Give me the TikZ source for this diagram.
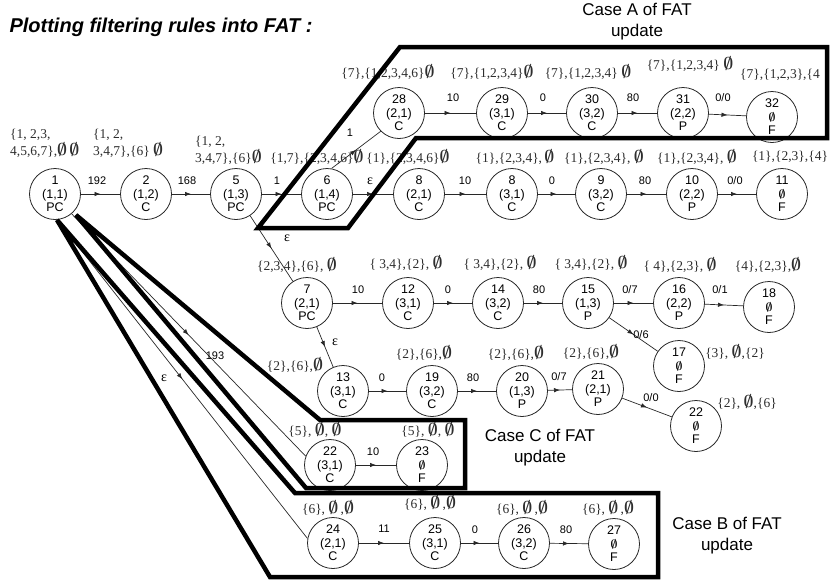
\documentclass[tikz,border=0pt]{standalone}
\usepackage{fontspec}
\setmainfont{Liberation Serif}
\newfontfamily\arialf{Liberation Sans}
\usetikzlibrary{arrows.meta,decorations.markings}
\definecolor{setc}{RGB}{45,45,45}
\definecolor{linec}{RGB}{40,40,40}
\newcommand{\es}{{\fontsize{17}{17}\selectfont\boldmath$\emptyset$}}
\newcommand{\esn}{{\fontsize{13}{12}\selectfont\boldmath$\emptyset$}}
\begin{document}
\begin{tikzpicture}[x=1pt,y=-1pt,
 nd/.style={circle,draw=linec,line width=0.8pt,minimum size=51pt,inner sep=0pt,align=center,font=\arialf\fontsize{12.5}{13.5}\selectfont},
 el/.style={font=\arialf\fontsize{11}{12}\selectfont,inner sep=0.5pt},
 epsl/.style={fill=white,font=\fontsize{14}{14}\selectfont,inner sep=1pt},
 sl/.style={font=\fontsize{13.5}{17}\selectfont,text=setc,inner sep=0pt},
 fwd/.style={draw=linec,line width=0.7pt,decoration={markings,mark=at position 0.5 with {\arrow{Latex[length=6pt,width=4.5pt]}}},postaction={decorate}},
 casebox/.style={line width=4.5pt,draw=black},
 capt/.style={font=\arialf\fontsize{17}{21}\selectfont,align=center},
]
\useasboundingbox (0,0) rectangle (835,579);

% title
\node[anchor=west,font=\arialf\bfseries\itshape\fontsize{20}{24}\selectfont] (title) at (6,27) {Plotting filtering rules into FAT :};

% nodes row 1
\node[nd] (n1) at (55,194) {1\\(1,1)\\PC};
\node[nd] (n2) at (146,194) {2\\(1,2)\\C};
\node[nd] (n5) at (236,194) {5\\(1,3)\\PC};
\node[nd] (n6) at (327,194) {6\\(1,4)\\PC};
\node[nd] (n8) at (419,194) {8\\(2,1)\\C};
\node[nd] (n8b) at (512,194) {8\\(3,1)\\C};
\node[nd] (n9) at (601,194) {9\\(3,2)\\C};
\node[nd] (n10) at (692,194) {10\\(2,2)\\P};
\node[nd] (n11) at (782,194) {11\\\esn\\F};
% case A row
\node[nd] (n28) at (399,113) {28\\(2,1)\\C};
\node[nd] (n29) at (502,113) {29\\(3,1)\\C};
\node[nd] (n30) at (592,113) {30\\(3,2)\\C};
\node[nd] (n31) at (683,113) {31\\(2,2)\\P};
\node[nd] (n32) at (772,117) {32\\\esn\\F};
% row 3
\node[nd] (n7) at (307,303) {7\\(2,1)\\PC};
\node[nd] (n12) at (408,303) {12\\(3,1)\\C};
\node[nd] (n14) at (498,303) {14\\(3,2)\\C};
\node[nd] (n15) at (588,303) {15\\(1,3)\\P};
\node[nd] (n16) at (679,303) {16\\(2,2)\\P};
\node[nd] (n18) at (769,307) {18\\\esn\\F};
\node[nd] (n17) at (679,366) {17\\\esn\\F};
% row 4
\node[nd] (n13) at (343,391) {13\\(3,1)\\C};
\node[nd] (n19) at (432,391) {19\\(3,2)\\C};
\node[nd] (n20) at (522,391) {20\\(1,3)\\P};
\node[nd] (n21) at (598,389) {21\\(2,1)\\P};
\node[nd] (n22f) at (696,426) {22\\\esn\\F};
% case C
\node[nd] (n22) at (330,465) {22\\(3,1)\\C};
\node[nd] (n23) at (422,465) {23\\\esn\\F};
% case B
\node[nd] (n24) at (333,543) {24\\(2,1)\\C};
\node[nd] (n25) at (435,543) {25\\(3,1)\\C};
\node[nd] (n26) at (524,543) {26\\(3,2)\\C};
\node[nd] (n27) at (614,544) {27\\\esn\\F};

% edges
\draw[fwd] (n1) -- (n2);
\draw[fwd] (n2) -- (n5);
\draw[fwd] (n5) -- (n6);
\draw[fwd] (n6) -- (n8);
\draw[fwd] (n8) -- (n8b);
\draw[fwd] (n8b) -- (n9);
\draw[fwd] (n9) -- (n10);
\draw[fwd] (n10) -- (n11);
\draw[fwd] (n6.80) -- (n28.225);
\draw[fwd] (n28) -- (n29);
\draw[fwd] (n29) -- (n30);
\draw[fwd] (n30) -- (n31);
\draw[fwd] (n31) -- (n32);
\draw[fwd] (n5) -- (n7);
\draw[fwd] (n7) -- (n12);
\draw[fwd] (n12) -- (n14);
\draw[fwd] (n14) -- (n15);
\draw[fwd] (n15) -- (n16);
\draw[fwd] (n16) -- (n18);
\draw[fwd] (n15) -- (n17);
\draw[fwd] (n7) -- (n13);
\draw[fwd] (n13) -- (n19);
\draw[fwd] (n19) -- (n20);
\draw[fwd] (n20) -- (n21);
\draw[fwd] (n21) -- (n22f);
\draw[fwd] (n1.-50) -- (n22.160);
\draw[fwd] (n22) -- (n23);
\draw[fwd] (n1.-85) -- (n24.170);
\draw[fwd] (n24) -- (n25);
\draw[fwd] (n25) -- (n26);
\draw[fwd] (n26) -- (n27);

% edge labels
\node[el] (e1) at (97,181) {192};
\node[el] (e2) at (187,181) {168};
\node[el] (e3) at (277,181) {1};
\node[epsl] (e4) at (370,181) {ε};
\node[el] (e5) at (465,181) {10};
\node[el] (e6) at (552,181) {0};
\node[el] (e7) at (645,181) {80};
\node[el] (e8) at (735,181) {0/0};
\node[el] (e9) at (350,133) {1};
\node[el] (e10) at (453,98) {10};
\node[el] (e11) at (543,98) {0};
\node[el] (e12) at (633,98) {80};
\node[el] (e13) at (723,98) {0/0};
\node[epsl] (e14) at (287,238) {ε};
\node[el] (e15) at (358,290) {10};
\node[el] (e16) at (448,290) {0};
\node[el] (e17) at (539,290) {80};
\node[el] (e18) at (630,290) {0/7};
\node[el] (e19) at (720,290) {0/1};
\node[el] (e20) at (641,335) {0/6};
\node[epsl] (e21) at (335,342) {ε};
\node[el] (e22) at (382,378) {0};
\node[el] (e23) at (473,378) {80};
\node[el] (e24) at (559,377) {0/7};
\node[el] (e25) at (651,398) {0/0};
\node[el] (e26) at (215,356) {193};
\node[el] (e27) at (373,452) {10};
\node[epsl] (e28) at (164,378) {ε};
\node[el] (e29) at (384,529) {11};
\node[el] (e30) at (475,530) {0};
\node[el] (e31) at (566,530) {80};

% set labels
\node[sl,anchor=west,align=left] (s1) at (10,143) {\{1, 2,3,\\4,5,6,7\},\es\,\es};
\node[sl,anchor=west,align=left] (s2) at (93,143) {\{1, 2,\\3,4,7\},\{6\} \es};
\node[sl,anchor=west,align=left] (s5) at (195,150) {\{1, 2,\\3,4,7\},\{6\}\es};
\node[sl] (s6) at (317,157) {\{1,7\},\{2,3,4,6\}\es};
\node[sl] (s8) at (408,157) {\{1\},\{2,3,4,6\}\es};
\node[sl] (s8b) at (515,157) {\{1\},\{2,3,4\},\,\es};
\node[sl] (s9) at (604,157) {\{1\},\{2,3,4\}, \es};
\node[sl] (s10) at (697,157) {\{1\},\{2,3,4\}, \es};
\node[sl] (s11) at (790,157) {\{1\},\{2,3\},\{4\}};
\node[sl] (s28) at (388,72) {\{7\},\{1,2,3,4,6\}\es};
\node[sl] (s29) at (492,72) {\{7\},\{1,2,3,4\}\es};
\node[sl] (s30) at (588,72) {\{7\},\{1,2,3,4\} \es};
\node[sl] (s31) at (690,64) {\{7\},\{1,2,3,4\} \es};
\node[sl] (s32) at (780,75) {\{7\},\{1,2,3\},\{4};
\node[sl] (s7) at (297,265) {\{2,3,4\},\{6\}, \es};
\node[sl] (s12) at (406,263) {\{ 3,4\},\{2\}, \es};
\node[sl] (s14) at (500,263) {\{ 3,4\},\{2\}, \es};
\node[sl] (s15) at (591,263) {\{ 3,4\},\{2\}, \es};
\node[sl] (s16) at (680,265) {\{ 4\},\{2,3\}, \es};
\node[sl] (s18) at (768,265) {\{4\},\{2,3\},\es};
\node[sl] (s17) at (735,352) {\{3\}, \es,\{2\}};
\node[sl] (s13) at (295,365) {\{2\},\{6\},\es};
\node[sl] (s19) at (424,353) {\{2\},\{6\},\es};
\node[sl] (s20) at (516,353) {\{2\},\{6\},\es};
\node[sl] (s21) at (591,352) {\{2\},\{6\},\es};
\node[sl] (s22f) at (747,402) {\{2\}, \es,\{6\}};
\node[sl] (s22) at (315,430) {\{5\}, \es, \es};
\node[sl] (s23) at (428,430) {\{5\}, \es, \es};
\node[sl] (s24) at (328,508) {\{6\}, \es\,,\es};
\node[sl] (s25) at (430,503) {\{6\}, \es\,,\es};
\node[sl] (s26) at (522,508) {\{6\}, \es\,,\es};
\node[sl] (s27) at (608,508) {\{6\}, \es\,,\es};

% case boxes
\draw[casebox] (258,228) -- (400,47) -- (827,47) -- (827,138) -- (416,138) -- (348,228) -- cycle;
\draw[casebox] (76,215) -- (320,420) -- (465,420) -- (465,488) -- (306,488) -- cycle;
\draw[casebox] (57,220) -- (295,493) -- (658,493) -- (658,577) -- (270,577) -- cycle;

% captions
\node[capt] (ca) at (637,22) {Case A of FAT\\update};
\node[capt] (cc) at (540,448) {Case C of FAT\\update};
\node[capt] (cb) at (727,536) {Case B of FAT\\update};
\end{tikzpicture}
\end{document}
